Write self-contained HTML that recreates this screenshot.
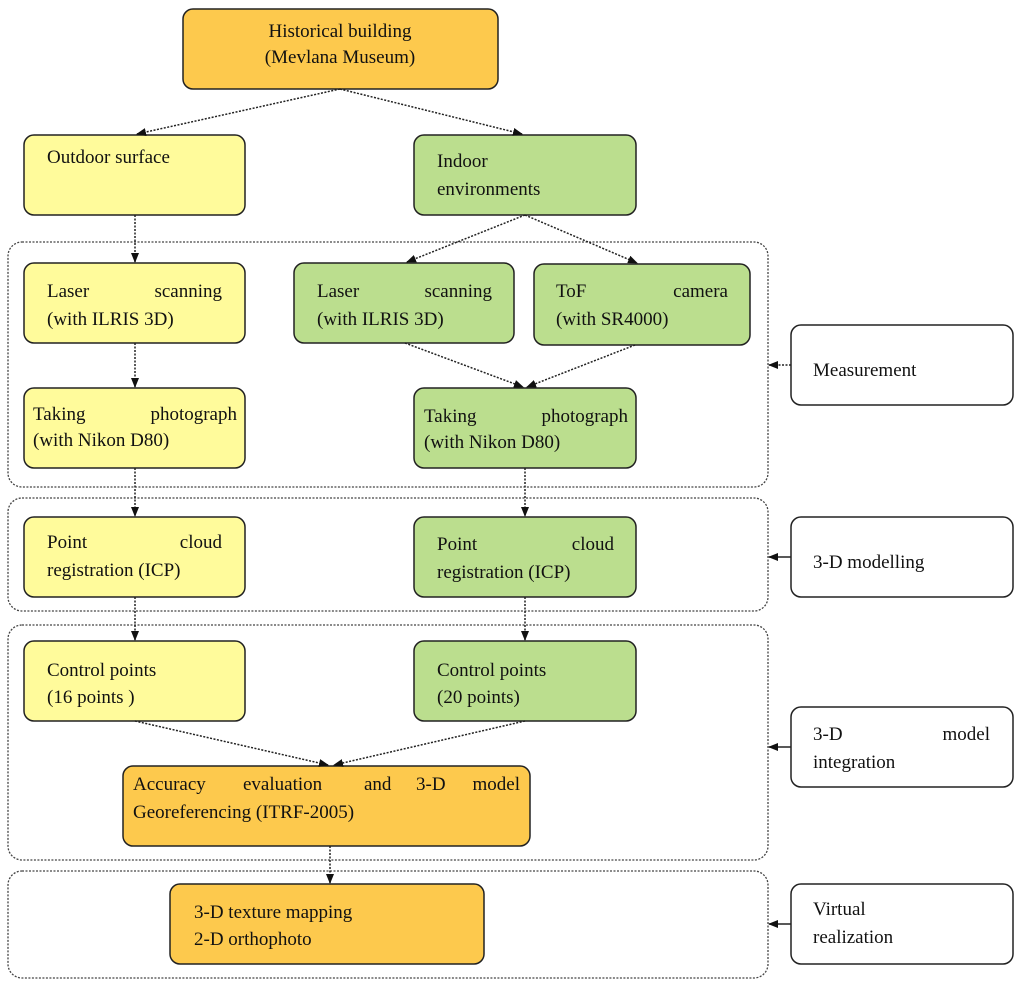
<!DOCTYPE html>
<html><head><meta charset="utf-8"><style>
html,body{margin:0;padding:0;background:#fff;}
svg{display:block;}
text{font-family:"Liberation Serif",serif;font-size:19px;fill:#111;}
</style></head><body>
<svg width="1024" height="986" viewBox="0 0 1024 986" xmlns="http://www.w3.org/2000/svg">
<defs>
<marker id="a" markerWidth="10" markerHeight="10" refX="9" refY="5" orient="auto" markerUnits="userSpaceOnUse">
<path d="M0,1 L10,5 L0,9 z" fill="#111"/></marker>
</defs>
<g fill="none" stroke="#444" stroke-width="1.3" stroke-dasharray="2,1.5">
<rect x="8" y="242" width="760" height="245" rx="14"/>
<rect x="8" y="498" width="760" height="113" rx="14"/>
<rect x="8" y="625" width="760" height="235" rx="14"/>
<rect x="8" y="871" width="760" height="107" rx="14"/>
</g>
<g stroke="#222" stroke-width="1.5">
<rect x="183" y="9" width="315" height="80" rx="10" fill="#FDC94D"/>
<rect x="24" y="135" width="221" height="80" rx="10" fill="#FFFB9B"/>
<rect x="414" y="135" width="222" height="80" rx="10" fill="#BBDE8E"/>
<rect x="24" y="263" width="221" height="80" rx="10" fill="#FFFB9B"/>
<rect x="294" y="263" width="220" height="80" rx="10" fill="#BBDE8E"/>
<rect x="534" y="264" width="216" height="81" rx="10" fill="#BBDE8E"/>
<rect x="24" y="388" width="221" height="80" rx="10" fill="#FFFB9B"/>
<rect x="414" y="388" width="222" height="80" rx="10" fill="#BBDE8E"/>
<rect x="24" y="517" width="221" height="80" rx="10" fill="#FFFB9B"/>
<rect x="414" y="517" width="222" height="80" rx="10" fill="#BBDE8E"/>
<rect x="24" y="641" width="221" height="80" rx="10" fill="#FFFB9B"/>
<rect x="414" y="641" width="222" height="80" rx="10" fill="#BBDE8E"/>
<rect x="123" y="766" width="407" height="80" rx="10" fill="#FDC94D"/>
<rect x="170" y="884" width="314" height="80" rx="10" fill="#FDC94D"/>
<rect x="791" y="325" width="222" height="80" rx="10" fill="#fff"/>
<rect x="791" y="517" width="222" height="80" rx="10" fill="#fff"/>
<rect x="791" y="707" width="222" height="80" rx="10" fill="#fff"/>
<rect x="791" y="884" width="222" height="80" rx="10" fill="#fff"/>
</g>
<g stroke="#222" stroke-width="1.5" stroke-dasharray="2,1.5" fill="none" marker-end="url(#a)">
<line x1="340" y1="89" x2="137" y2="134"/>
<line x1="340" y1="89" x2="522" y2="134"/>
<line x1="135" y1="215" x2="135" y2="262"/>
<line x1="525" y1="215" x2="407" y2="262"/>
<line x1="525" y1="215" x2="637" y2="263"/>
<line x1="135" y1="343" x2="135" y2="387"/>
<line x1="405" y1="343" x2="523" y2="387"/>
<line x1="635" y1="345" x2="527" y2="387"/>
<line x1="135" y1="468" x2="135" y2="516"/>
<line x1="525" y1="468" x2="525" y2="516"/>
<line x1="135" y1="597" x2="135" y2="640"/>
<line x1="525" y1="597" x2="525" y2="640"/>
<line x1="135" y1="721" x2="328" y2="765"/>
<line x1="525" y1="721" x2="334" y2="765"/>
<line x1="330" y1="846" x2="330" y2="883"/>
<line x1="791" y1="365" x2="769" y2="365"/>
</g>
<g stroke="#222" stroke-width="1.5" fill="none" marker-end="url(#a)">
<line x1="791" y1="557" x2="769" y2="557"/>
<line x1="791" y1="747" x2="769" y2="747"/>
<line x1="791" y1="924" x2="769" y2="924"/>
</g>
<text x="340" y="37" text-anchor="middle">Historical building</text>
<text x="340" y="63" text-anchor="middle">(Mevlana Museum)</text>
<text x="47" y="163">Outdoor surface</text>
<text x="437" y="167">Indoor</text>
<text x="437" y="195">environments</text>
<text x="47" y="297">Laser</text><text x="222" y="297" text-anchor="end">scanning</text>
<text x="47" y="325">(with ILRIS 3D)</text>
<text x="317" y="297">Laser</text><text x="492" y="297" text-anchor="end">scanning</text>
<text x="317" y="325">(with ILRIS 3D)</text>
<text x="556" y="297">ToF</text><text x="728" y="297" text-anchor="end">camera</text>
<text x="556" y="325">(with SR4000)</text>
<text x="33" y="420">Taking</text><text x="237" y="420" text-anchor="end">photograph</text>
<text x="33" y="446">(with Nikon D80)</text>
<text x="424" y="422">Taking</text><text x="628" y="422" text-anchor="end">photograph</text>
<text x="424" y="448">(with Nikon D80)</text>
<text x="47" y="548">Point</text><text x="222" y="548" text-anchor="end">cloud</text>
<text x="47" y="576">registration (ICP)</text>
<text x="437" y="550">Point</text><text x="614" y="550" text-anchor="end">cloud</text>
<text x="437" y="578">registration (ICP)</text>
<text x="47" y="676">Control points</text>
<text x="47" y="703">(16 points )</text>
<text x="437" y="676">Control points</text>
<text x="437" y="703">(20 points)</text>
<text x="133" y="790">Accuracy</text>
<text x="243" y="790">evaluation</text>
<text x="364" y="790">and</text>
<text x="416" y="790">3-D</text>
<text x="520" y="790" text-anchor="end">model</text>
<text x="133" y="818">Georeferencing (ITRF-2005)</text>
<text x="194" y="918">3-D texture mapping</text>
<text x="194" y="945">2-D orthophoto</text>
<text x="813" y="376">Measurement</text>
<text x="813" y="568">3-D modelling</text>
<text x="813" y="740">3-D</text><text x="990" y="740" text-anchor="end">model</text>
<text x="813" y="768">integration</text>
<text x="813" y="915">Virtual</text>
<text x="813" y="943">realization</text>
</svg>
</body></html>
